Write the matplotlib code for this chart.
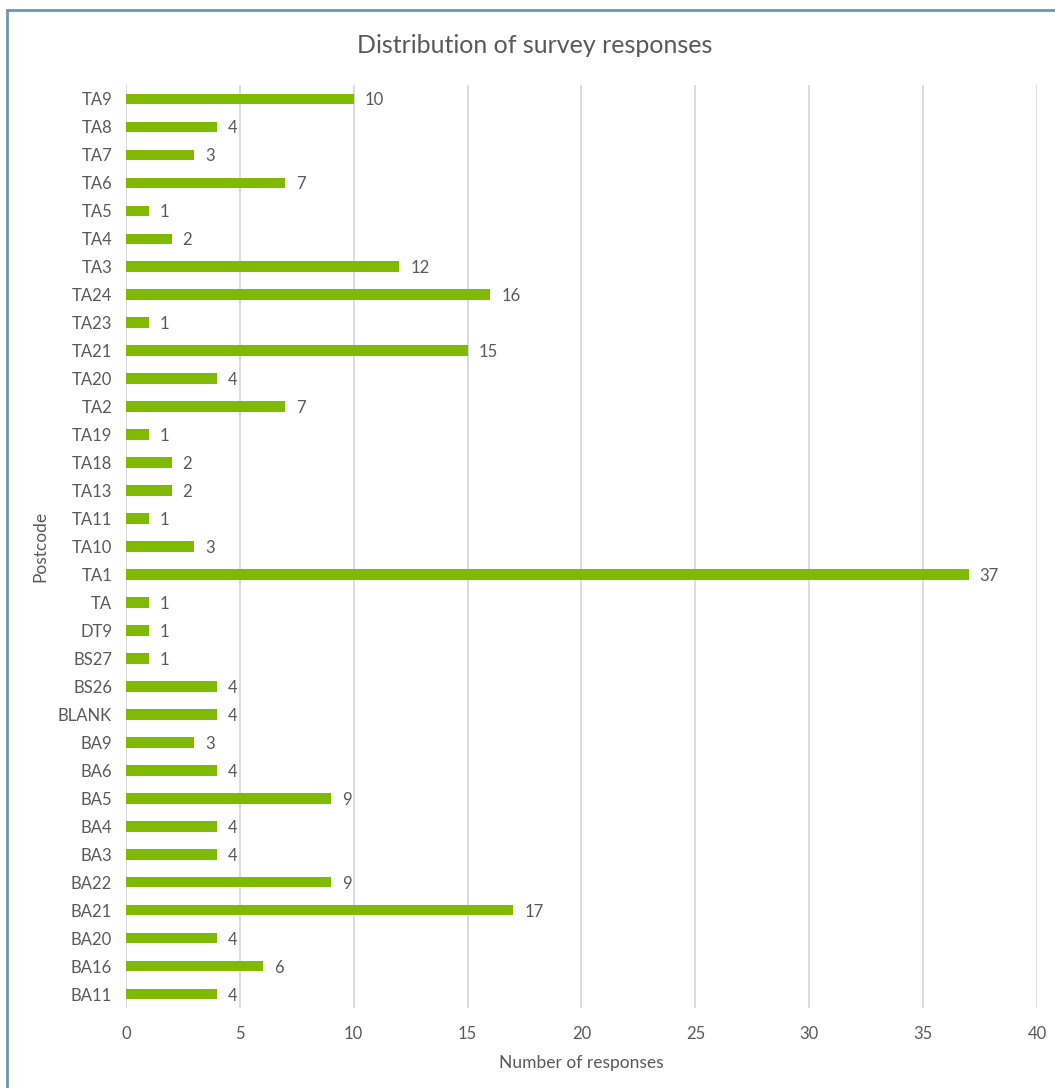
import numpy as np
import matplotlib as mpl
mpl.use('Agg')
import matplotlib.pyplot as plt
from matplotlib.patches import Rectangle

# postcodes bottom -> top, as in the chart
postcodes = ['BA11', 'BA16', 'BA20', 'BA21', 'BA22', 'BA3', 'BA4', 'BA5', 'BA6',
             'BA9', 'BLANK', 'BS26', 'BS27', 'DT9', 'TA', 'TA1', 'TA10', 'TA11',
             'TA13', 'TA18', 'TA19', 'TA2', 'TA20', 'TA21', 'TA23', 'TA24', 'TA3',
             'TA4', 'TA5', 'TA6', 'TA7', 'TA8', 'TA9']
responses = [4, 6, 4, 17, 9, 4, 4, 9, 4,
             3, 4, 4, 1, 1, 1, 37, 3, 1,
             2, 2, 1, 7, 4, 15, 1, 16, 12,
             2, 1, 7, 3, 4, 10]
xticks = [0, 5, 10, 15, 20, 25, 30, 35, 40]

plt.rcParams['font.family'] = ['Lato', 'DejaVu Sans']
txt = '#595959'
bar_col = '#7fba00'

fig = plt.figure(figsize=(10.55, 10.88), dpi=100)
ax = fig.add_axes([0.1194, 0.0735, 0.8635, 0.8484])

y = np.arange(len(postcodes))
ax.barh(y, responses, height=0.38, color=bar_col, zorder=3)
for yi, v in zip(y, responses):
    ax.annotate(str(v), (v, yi), xytext=(8, 0), textcoords='offset points',
                va='center_baseline', ha='left', fontsize=12, color=txt)

ax.set_xlim(0, 40)
ax.set_ylim(-0.5, len(postcodes) - 0.5)
ax.set_xticks(xticks)
ax.set_yticks(y)
ax.set_yticklabels(postcodes)
ax.tick_params(length=0, labelsize=12, labelcolor=txt)
ax.tick_params(axis='x', pad=13)
ax.tick_params(axis='y', pad=10)
ax.grid(axis='x', color='#d9d9d9', linewidth=1.3, zorder=0)
for s in ax.spines.values():
    s.set_visible(False)

ax.set_xlabel('Number of responses', fontsize=12.5, color=txt, labelpad=9)
ax.set_ylabel('Postcode', fontsize=12.5, color=txt, labelpad=7)
fig.text(0.507, 0.958, 'Distribution of survey responses', ha='center', va='center',
         fontsize=18, color=txt)

# chart border
fig.patches.append(Rectangle((7 / 1055, -0.05), 1.2, 1 - 10 / 1088 + 0.05,
                             transform=fig.transFigure, fill=False,
                             edgecolor='#7094b4', linewidth=2))

fig.savefig('out.png', dpi=100)
